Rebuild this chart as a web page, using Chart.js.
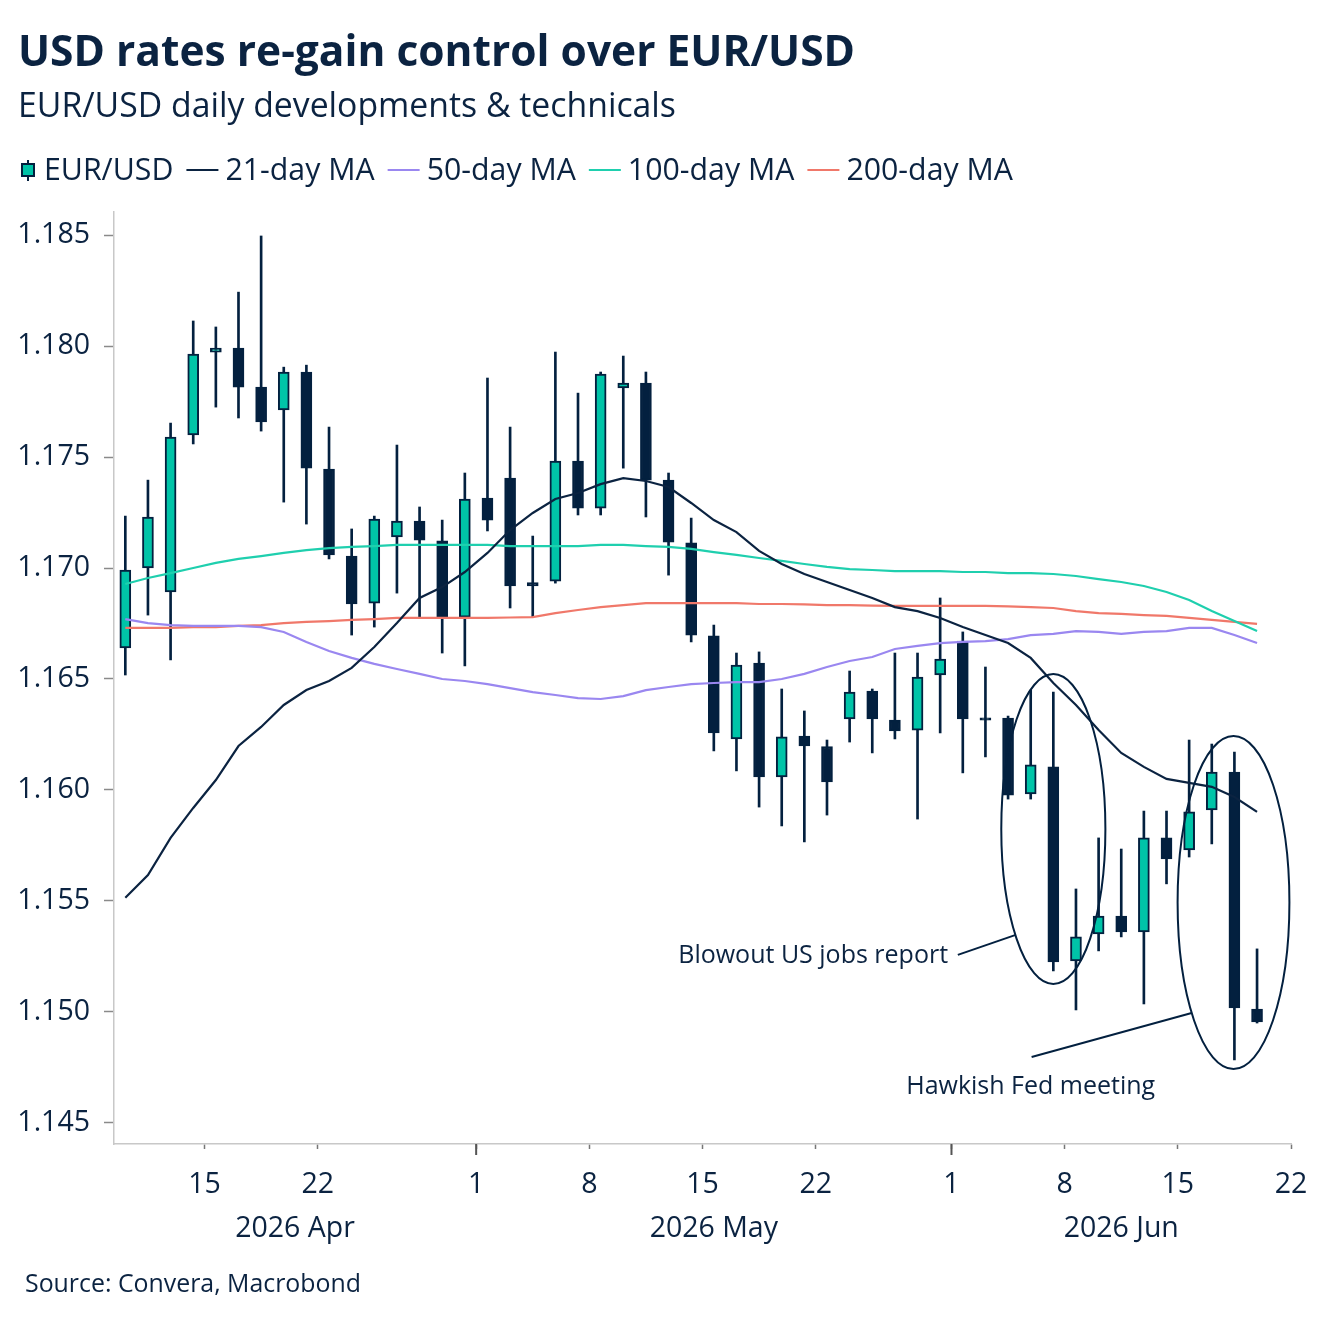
<!DOCTYPE html>
<html lang="en">
<head>
<meta charset="UTF-8">
<title>USD rates re-gain control over EUR/USD</title>
<script src="https://cdn.jsdelivr.net/npm/chart.js"></script>
<style>
  html, body { margin: 0; padding: 0; background: #fff; }
  canvas { display: block; }
</style>
</head>
<body>
<canvas id="chart" width="1327" height="1325"></canvas>
<script>
// trading days shown on the chart (weekends removed)
const dates = [
  '2026-04-09','2026-04-10','2026-04-13','2026-04-14','2026-04-15','2026-04-16','2026-04-17',
  '2026-04-20','2026-04-21','2026-04-22','2026-04-23','2026-04-24','2026-04-27','2026-04-28',
  '2026-04-29','2026-04-30','2026-05-01','2026-05-04','2026-05-05','2026-05-06','2026-05-07',
  '2026-05-08','2026-05-11','2026-05-12','2026-05-13','2026-05-14','2026-05-15','2026-05-18',
  '2026-05-19','2026-05-20','2026-05-21','2026-05-22','2026-05-25','2026-05-26','2026-05-27',
  '2026-05-28','2026-05-29','2026-06-01','2026-06-02','2026-06-03','2026-06-04','2026-06-05',
  '2026-06-08','2026-06-09','2026-06-10','2026-06-11','2026-06-12','2026-06-15','2026-06-16',
  '2026-06-17','2026-06-18'
];

const openP = [
  1.16640, 1.17000, 1.16892, 1.17600, 1.17973, 1.17991, 1.17815, 1.17712, 1.17883, 1.17446,
  1.17054, 1.16842, 1.17140, 1.17212, 1.17122, 1.16779, 1.17315, 1.17405, 1.16934, 1.16941,
  1.17482, 1.17270, 1.17811, 1.17833, 1.17396, 1.17113, 1.16694, 1.16230, 1.16572, 1.16059,
  1.16243, 1.16196, 1.16320, 1.16446, 1.16315, 1.16270, 1.16518, 1.16671, 1.16325, 1.16324,
  1.15982, 1.16104, 1.15230, 1.15351, 1.15432, 1.15360, 1.15784, 1.15730, 1.15910, 1.16081,
  1.15013
];
const highP = [
  1.17234, 1.17396, 1.17653, 1.18113, 1.18086, 1.18243, 1.18496, 1.17905, 1.17914, 1.17635,
  1.17176, 1.17234, 1.17554, 1.17275, 1.17216, 1.17428, 1.17856, 1.17635, 1.17144, 1.17973,
  1.17788, 1.17883, 1.17955, 1.17883, 1.17428, 1.17225, 1.16743, 1.16617, 1.16622, 1.16455,
  1.16356, 1.16225, 1.16536, 1.16455, 1.16617, 1.16617, 1.16865, 1.16712, 1.16554, 1.16333,
  1.16450, 1.16441, 1.15554, 1.15784, 1.15734, 1.15905, 1.15905, 1.16225, 1.16207, 1.16171,
  1.15284
];
const lowP = [
  1.16518, 1.16788, 1.16586, 1.17559, 1.17725, 1.17676, 1.17617, 1.17297, 1.17198, 1.17041,
  1.16698, 1.16734, 1.16887, 1.16775, 1.16617, 1.16559, 1.17167, 1.16820, 1.16779, 1.16932,
  1.17239, 1.17239, 1.17450, 1.17230, 1.16968, 1.16667, 1.16176, 1.16086, 1.15923, 1.15838,
  1.15766, 1.15887, 1.16216, 1.16167, 1.16230, 1.15869, 1.16257, 1.16077, 1.16149, 1.15959,
  1.15959, 1.15185, 1.15009, 1.15275, 1.15338, 1.15036, 1.15577, 1.15698, 1.15757, 1.14784,
  1.14950
];
const closeP = [
  1.16991, 1.17230, 1.17590, 1.17964, 1.17991, 1.17815, 1.17658, 1.17883, 1.17450, 1.17059,
  1.16838, 1.17221, 1.17212, 1.17126, 1.16779, 1.17311, 1.17216, 1.16919, 1.16919, 1.17482,
  1.17270, 1.17874, 1.17833, 1.17396, 1.17117, 1.16698, 1.16257, 1.16563, 1.16059, 1.16239,
  1.16198, 1.16036, 1.16441, 1.16320, 1.16266, 1.16509, 1.16590, 1.16320, 1.16315, 1.15977,
  1.16113, 1.15225, 1.15338, 1.15432, 1.15360, 1.15784, 1.15689, 1.15901, 1.16081, 1.15018,
  1.14955
];

const ma21 = [
  1.15514, 1.15617, 1.15784, 1.15919, 1.16045, 1.16198, 1.16284, 1.16383, 1.16450, 1.16491,
  1.16550, 1.16644, 1.16752, 1.16865, 1.16914, 1.16982, 1.17068, 1.17171, 1.17248, 1.17311,
  1.17338, 1.17378, 1.17405, 1.17392, 1.17365, 1.17293, 1.17216, 1.17162, 1.17077, 1.17018,
  1.16973, 1.16937, 1.16901, 1.16865, 1.16824, 1.16806, 1.16775, 1.16734, 1.16698, 1.16662,
  1.16595, 1.16482, 1.16383, 1.16270, 1.16167, 1.16104, 1.16050, 1.16032, 1.16014, 1.15968,
  1.15901
];
const ma50 = [
  1.16770, 1.16752, 1.16743, 1.16739, 1.16739, 1.16739, 1.16734, 1.16712, 1.16667, 1.16626,
  1.16595, 1.16568, 1.16545, 1.16523, 1.16500, 1.16491, 1.16477, 1.16459, 1.16441, 1.16428,
  1.16414, 1.16410, 1.16423, 1.16450, 1.16464, 1.16477, 1.16482, 1.16486, 1.16486, 1.16500,
  1.16523, 1.16554, 1.16581, 1.16599, 1.16635, 1.16649, 1.16662, 1.16667, 1.16671, 1.16680,
  1.16698, 1.16703, 1.16716, 1.16712, 1.16703, 1.16712, 1.16716, 1.16730, 1.16730, 1.16698,
  1.16662
];
const ma100 = [
  1.16928, 1.16955, 1.16977, 1.17000, 1.17023, 1.17041, 1.17054, 1.17068, 1.17081, 1.17090,
  1.17095, 1.17099, 1.17104, 1.17104, 1.17104, 1.17104, 1.17104, 1.17099, 1.17099, 1.17099,
  1.17099, 1.17104, 1.17104, 1.17099, 1.17095, 1.17086, 1.17072, 1.17059, 1.17045, 1.17032,
  1.17018, 1.17005, 1.16995, 1.16991, 1.16986, 1.16986, 1.16986, 1.16982, 1.16982, 1.16977,
  1.16977, 1.16973, 1.16964, 1.16950, 1.16937, 1.16919, 1.16892, 1.16856, 1.16806, 1.16761,
  1.16716
];
const ma200 = [
  1.16730, 1.16730, 1.16730, 1.16734, 1.16734, 1.16739, 1.16743, 1.16752, 1.16757, 1.16761,
  1.16766, 1.16770, 1.16775, 1.16775, 1.16775, 1.16775, 1.16775, 1.16777, 1.16779, 1.16797,
  1.16811, 1.16824, 1.16833, 1.16842, 1.16842, 1.16842, 1.16842, 1.16842, 1.16838, 1.16838,
  1.16836, 1.16833, 1.16833, 1.16831, 1.16829, 1.16829, 1.16829, 1.16829, 1.16829, 1.16827,
  1.16824, 1.16820, 1.16806, 1.16797, 1.16793, 1.16788, 1.16784, 1.16775, 1.16766, 1.16757,
  1.16748
];

const seriesNames = ['EUR/USD', '21-day MA', '50-day MA', '100-day MA', '200-day MA'];
const yTicks = [1.145, 1.150, 1.155, 1.160, 1.165, 1.170, 1.175, 1.180, 1.185];
const xTickDates = ['2026-04-15', '2026-04-22', '2026-05-01', '2026-05-08', '2026-05-15',
                    '2026-05-22', '2026-06-01', '2026-06-08', '2026-06-15', '2026-06-22'];
const xTickLabels = ['15', '22', '1', '8', '15', '22', '1', '8', '15', '22'];
const monthStarts = ['2026-04-01', '2026-05-01', '2026-06-01', '2026-07-01'];
const monthLabels = ['2026 Apr', '2026 May', '2026 Jun'];

const titleText = 'USD rates re-gain control over EUR/USD';
const subtitleText = 'EUR/USD daily developments & technicals';
const sourceText = 'Source: Convera, Macrobond';

const NAVY = '#0b2341';
const DARK = '#03203f';
const TEAL = '#00c4a8';
const MA_COLORS = ['#0b2341', '#9a87f0', '#1fcfae', '#f0786a'];
const FONT = '"Open Sans", "Noto Sans", sans-serif';

// number of weekdays between the first date and a given date
function tradingIndex(ds) {
  const p0 = dates[0].split('-').map(Number);
  const p1 = ds.split('-').map(Number);
  const end = Date.UTC(p1[0], p1[1] - 1, p1[2]);
  let n = 0;
  for (let t = Date.UTC(p0[0], p0[1] - 1, p0[2]); t < end; t += 86400000) {
    const wd = new Date(t).getUTCDay();
    if (wd !== 0 && wd !== 6) n++;
  }
  return n;
}

// annotations: ellipse + callout, in data units (x = trading-day index)
const notes = [
  { text: 'Blowout US jobs report', align: 'right', tx: 36.35, ty: 1.15222,
    line: [[36.78, 1.15257], [39.34, 1.15347]],
    ellipse: { x: 41.0, y: 1.15824, rx: 2.30, ry: 0.00698 } },
  { text: 'Hawkish Fed meeting', align: 'center', tx: 40.0, ty: 1.14631,
    line: [[40.04, 1.14797], [47.11, 1.14995]],
    ellipse: { x: 48.96, y: 1.15493, rx: 2.47, ry: 0.00750 } }
];

function fitFont(ctx, text, weight, width) {
  ctx.font = weight + ' 100px ' + FONT;
  const size = 100 * width / ctx.measureText(text).width;
  return weight + ' ' + size.toFixed(2) + 'px ' + FONT;
}

const overlay = {
  id: 'overlay',
  afterDraw(chart) {
    const ctx = chart.ctx;
    const xs = chart.scales.x, ys = chart.scales.y, area = chart.chartArea;
    ctx.save();

    // title block
    ctx.fillStyle = NAVY;
    ctx.textAlign = 'left';
    ctx.textBaseline = 'alphabetic';
    ctx.font = fitFont(ctx, titleText, 'bold', 837);
    ctx.fillText(titleText, 18, 66);
    ctx.font = fitFont(ctx, subtitleText, 'normal', 658);
    ctx.fillText(subtitleText, 18, 117);

    // legend
    ctx.strokeStyle = DARK;
    ctx.lineWidth = 2;
    ctx.beginPath(); ctx.moveTo(28, 160); ctx.lineTo(28, 181); ctx.stroke();
    ctx.fillStyle = TEAL;
    ctx.fillRect(22, 164, 12, 12);
    ctx.strokeRect(22, 164, 12, 12);
    ctx.font = '30.3px ' + FONT;
    ctx.fillStyle = NAVY;
    let lx = 44;
    seriesNames.forEach((name, i) => {
      if (i > 0) {
        ctx.strokeStyle = MA_COLORS[i - 1];
        ctx.lineWidth = 2.2;
        ctx.beginPath(); ctx.moveTo(lx, 170); ctx.lineTo(lx + 32, 170); ctx.stroke();
        lx += 39;
      }
      ctx.fillText(name, lx, 180);
      lx += ctx.measureText(name).width + 13;
    });

    // longer tick marks at month starts
    ctx.strokeStyle = '#555';
    ctx.lineWidth = 2;
    monthStarts.forEach(ds => {
      const v = tradingIndex(ds) - 0.5;
      if (v <= xs.min || v >= xs.max) return;
      const px = xs.getPixelForValue(v);
      ctx.beginPath(); ctx.moveTo(px, area.bottom); ctx.lineTo(px, area.bottom + 11); ctx.stroke();
    });

    // month labels centred on each visible month
    ctx.font = '28.5px ' + FONT;
    ctx.fillStyle = NAVY;
    ctx.textAlign = 'center';
    ctx.textBaseline = 'middle';
    monthLabels.forEach((lab, i) => {
      const a = Math.max(xs.min, tradingIndex(monthStarts[i]) - 0.5);
      const b = Math.min(xs.max, tradingIndex(monthStarts[i + 1]) - 0.5);
      ctx.fillText(lab, xs.getPixelForValue((a + b) / 2), 1229);
    });

    // annotations
    ctx.strokeStyle = DARK;
    ctx.lineWidth = 2;
    ctx.textBaseline = 'alphabetic';
    notes.forEach(n => {
      const e = n.ellipse;
      const cx = xs.getPixelForValue(e.x), cy = ys.getPixelForValue(e.y);
      const rx = xs.getPixelForValue(e.x + e.rx) - cx;
      const ry = cy - ys.getPixelForValue(e.y + e.ry);
      ctx.beginPath(); ctx.ellipse(cx, cy, rx, ry, 0, 0, Math.PI * 2); ctx.stroke();
      ctx.beginPath();
      ctx.moveTo(xs.getPixelForValue(n.line[0][0]), ys.getPixelForValue(n.line[0][1]));
      ctx.lineTo(xs.getPixelForValue(n.line[1][0]), ys.getPixelForValue(n.line[1][1]));
      ctx.stroke();
      ctx.font = '25px ' + FONT;
      ctx.textAlign = n.align;
      ctx.fillText(n.text, xs.getPixelForValue(n.tx), ys.getPixelForValue(n.ty));
    });

    // source
    ctx.textAlign = 'left';
    ctx.font = fitFont(ctx, sourceText, 'normal', 336);
    ctx.fillText(sourceText, 25, 1292);
    ctx.restore();
  }
};

const bullish = i => closeP[i] >= openP[i];

function maLine(label, values, color) {
  return {
    type: 'line', label: label, order: 0,
    data: values.map((v, i) => ({ x: i, y: v })),
    borderColor: color, borderWidth: 2.2, pointRadius: 0, tension: 0
  };
}

const chart = new Chart(document.getElementById('chart'), {
  type: 'bar',
  data: {
    datasets: [
      maLine(seriesNames[1], ma21, MA_COLORS[0]),
      maLine(seriesNames[2], ma50, MA_COLORS[1]),
      maLine(seriesNames[3], ma100, MA_COLORS[2]),
      maLine(seriesNames[4], ma200, MA_COLORS[3]),
      {
        label: seriesNames[0], order: 1,
        data: dates.map((d, i) => ({ x: i, y: [openP[i], closeP[i]] })),
        backgroundColor: c => bullish(c.dataIndex) ? TEAL : DARK,
        borderColor: DARK, borderWidth: 2, borderSkipped: false,
        barThickness: 11, grouped: false
      },
      {
        label: 'wick', order: 2,
        data: dates.map((d, i) => ({ x: i, y: [lowP[i], highP[i]] })),
        backgroundColor: DARK, borderWidth: 0,
        barThickness: 2, grouped: false
      }
    ]
  },
  options: {
    responsive: false,
    animation: false,
    layout: { padding: { top: 212, right: 36, bottom: 0, left: 0 } },
    plugins: { legend: { display: false }, tooltip: { enabled: false } },
    scales: {
      x: {
        type: 'linear', min: -0.5, max: 51.5, bounds: 'data', offset: false,
        afterBuildTicks: s => { s.ticks = xTickDates.map(d => ({ value: tradingIndex(d) - 0.5 })); },
        afterFit: s => { s.height = 181; },
        ticks: {
          autoSkip: false, maxRotation: 0, padding: 19, color: NAVY,
          font: { family: FONT, size: 28.5 },
          callback: (v, i) => xTickLabels[i]
        },
        grid: { drawOnChartArea: false, offset: false, tickLength: 5, tickColor: '#777', tickWidth: 1.5 },
        border: { display: true, color: '#c8c8c8', width: 1.5 }
      },
      y: {
        type: 'linear', min: 1.14405, max: 1.18604, bounds: 'data',
        afterBuildTicks: s => { s.ticks = yTicks.map(v => ({ value: v })); },
        afterFit: s => { s.width = 114; },
        ticks: {
          padding: 14, color: NAVY,
          font: { family: FONT, size: 28.5 },
          callback: v => v.toFixed(3)
        },
        grid: { drawOnChartArea: false, tickLength: 10, tickColor: '#8a8a8a', tickWidth: 1.5 },
        border: { display: true, color: '#c8c8c8', width: 1.5 }
      }
    }
  },
  plugins: [overlay]
});
</script>
</body>
</html>
